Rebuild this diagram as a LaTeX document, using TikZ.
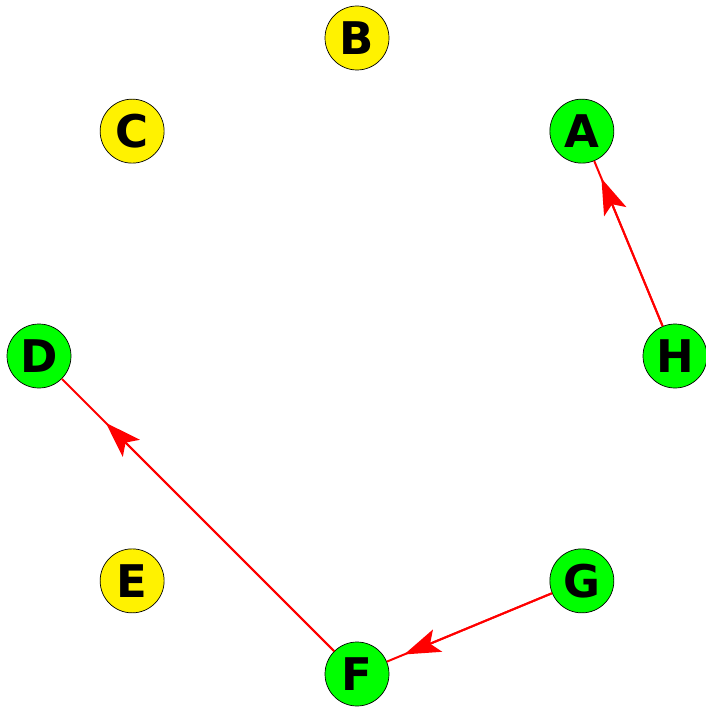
\documentclass[tikz,border=0pt]{standalone}
\usepackage{fontspec}
\setsansfont{DejaVu Sans}
\usetikzlibrary{arrows.meta,calc}
\tikzset{
  vertex/.style={circle,draw=black,line width=0.7pt,minimum size=64pt,inner sep=0pt,
    font=\sffamily\bfseries\fontsize{45}{45}\selectfont},
  lit/.style={vertex,fill=green},
  unlit/.style={vertex,fill=yellow},
  link/.style={red,line width=2pt},
  headed/.style={link,-{Stealth[length=36pt,width=24pt,inset=8pt]}}
}

\begin{document}
\begin{tikzpicture}[x=1pt,y=1pt]
  \useasboundingbox (0,0) rectangle (705,-709);
  \coordinate (O) at (357,-356);
  \foreach \name/\ang/\kind in {H/0/lit,A/45/lit,B/90/unlit,C/135/unlit,D/180/lit,E/225/unlit,F/270/lit,G/315/lit}
    \node[\kind] (\name) at ($(O)+(\ang:318)$) {\name};
  % edges, head placed along the way
  \foreach \from/\to in {H/A,G/F,F/D}{
    \draw[link] (\from) -- (\to);
    \draw[headed] (\from) -- ($(\from)!0.79!(\to)$);
  }
\end{tikzpicture}
\end{document}
